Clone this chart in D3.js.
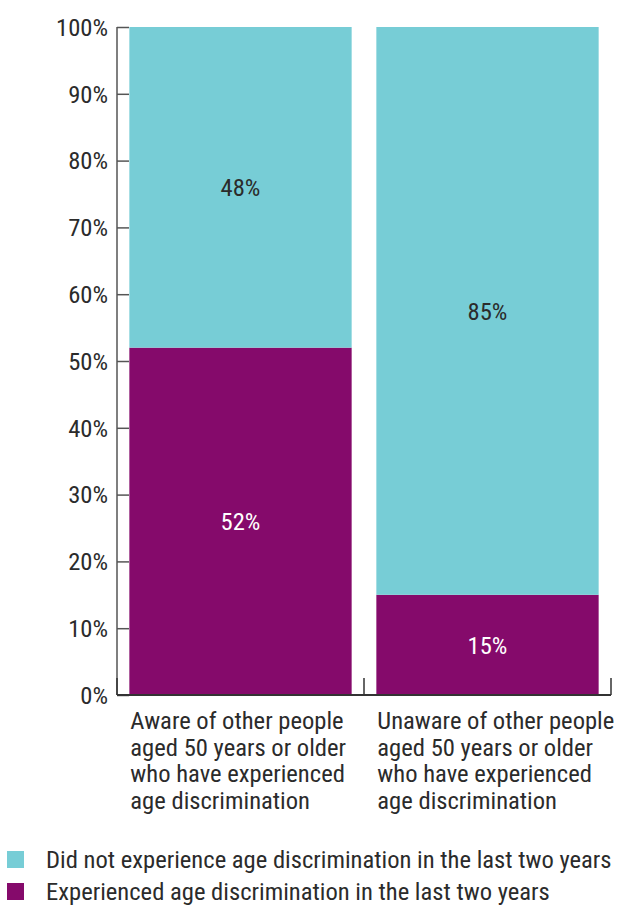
<!DOCTYPE html>
<html>
<head>
<meta charset="utf-8">
<script src="https://cdn.jsdelivr.net/npm/d3@7"></script>
<style>
  body { margin: 0; background: #fff; }
  svg text { font-family: "Liberation Sans Narrow", "Roboto Condensed", "Arial Narrow", Roboto, sans-serif; font-weight: 400; fill: #2b2b2b; }
</style>
</head>
<body>
<svg id="chart" width="621" height="921"></svg>
<script>
const categories = [
  ["Aware of other people", "aged 50 years or older", "who have experienced", "age discrimination"],
  ["Unaware of other people", "aged 50 years or older", "who have experienced", "age discrimination"]
];
const seriesNames = [
  "Experienced age discrimination in the last two years",
  "Did not experience age discrimination in the last two years"
];
const experienced = [52, 15];
const notExperienced = [48, 85];
const yTicks = [0, 10, 20, 30, 40, 50, 60, 70, 80, 90, 100];
const colors = ["#850a6b", "#77cdd6"];
const labelColors = ["#ffffff", "#2b2b2b"];

const svg = d3.select("#chart");
const plotLeft = 117, plotRight = 611, plotTop = 27, plotBottom = 695;
const fontSize = "24.6px";

const x = d3.scaleBand().domain([0, 1]).range([plotLeft, plotRight]).paddingInner(0.1).paddingOuter(0.05);
const y = d3.scaleLinear().domain([0, 100]).range([plotBottom, plotTop]);

const rows = categories.map((c, i) => ({ i, experienced: experienced[i], notExperienced: notExperienced[i] }));
const stack = d3.stack().keys(["experienced", "notExperienced"]);
const layers = stack(rows);

// stacked bars with centred value labels
layers.forEach((layer, li) => {
  svg.append("g").selectAll("rect").data(layer).join("rect")
    .attr("x", d => x(d.data.i))
    .attr("width", x.bandwidth())
    .attr("y", d => y(d[1]))
    .attr("height", d => y(d[0]) - y(d[1]))
    .attr("fill", colors[li]);
  svg.append("g").selectAll("text").data(layer).join("text")
    .attr("x", d => x(d.data.i) + x.bandwidth() / 2)
    .attr("y", d => (y(d[0]) + y(d[1])) / 2)
    .attr("dy", "0.35em")
    .attr("text-anchor", "middle")
    .style("font-size", fontSize)
    .style("fill", labelColors[li])
    .text(d => (d[1] - d[0]) + "%");
});

// y axis with inward ticks
const yAxis = d3.axisRight(y).tickValues(yTicks).tickSize(12).tickFormat("");
const gy = svg.append("g").attr("transform", `translate(${plotLeft},0)`).call(yAxis);
gy.select(".domain").remove();
gy.selectAll(".tick line").attr("stroke", "#555").attr("stroke-width", 1.5);
svg.append("line").attr("x1", plotLeft).attr("x2", plotLeft).attr("y1", plotTop).attr("y2", plotBottom)
  .attr("stroke", "#555").attr("stroke-width", 1.5);
svg.append("g").selectAll("text").data(yTicks).join("text")
  .attr("x", 108).attr("y", d => y(d)).attr("dy", "0.36em")
  .attr("text-anchor", "end").style("font-size", fontSize)
  .text(d => d + "%");

// baseline and category separators
svg.append("line").attr("x1", plotLeft).attr("x2", plotRight).attr("y1", plotBottom).attr("y2", plotBottom)
  .attr("stroke", "#333").attr("stroke-width", 2);
const seps = [plotLeft, x.step() + plotLeft, plotRight];
svg.append("g").selectAll("line").data(seps).join("line")
  .attr("x1", d => d).attr("x2", d => d).attr("y1", plotBottom - 17).attr("y2", plotBottom)
  .attr("stroke", "#333").attr("stroke-width", 1.5);

// category labels
categories.forEach((lines, i) => {
  const t = svg.append("text").attr("x", x(i) + 1).attr("y", 729).style("font-size", fontSize);
  lines.forEach((ln, k) => t.append("tspan").attr("x", x(i) + 1).attr("dy", k === 0 ? 0 : 26.5).text(ln));
});

// legend
const legendItems = [1, 0];
legendItems.forEach((s, k) => {
  const yy = 851 + k * 32;
  svg.append("rect").attr("x", 7).attr("y", yy).attr("width", 17).attr("height", 17).attr("fill", colors[s]);
  svg.append("text").attr("x", 46).attr("y", yy + 17).style("font-size", fontSize).text(seriesNames[s]);
});
</script>
</body>
</html>
